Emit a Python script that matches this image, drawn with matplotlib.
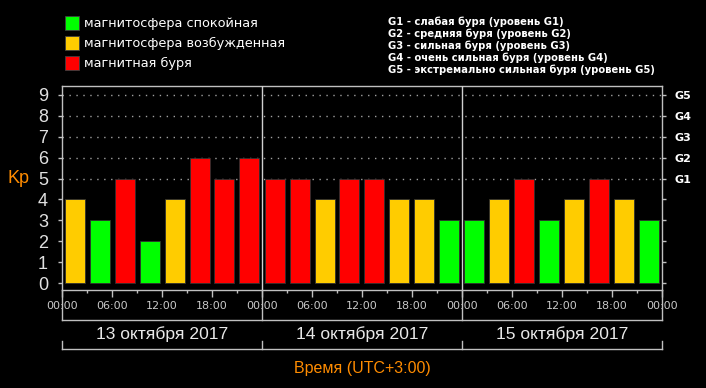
import matplotlib
matplotlib.use("Agg")
import matplotlib.pyplot as plt
from matplotlib.patches import Rectangle
from matplotlib.lines import Line2D
import matplotlib.transforms as mtransforms

# ---- data ----
kp_values = [4, 3, 5, 2, 4, 6, 5, 6,
             5, 5, 4, 5, 5, 4, 4, 3,
             3, 4, 5, 3, 4, 5, 4, 3]
hour_starts = list(range(0, 72, 3))
time_labels = ["00:00", "06:00", "12:00", "18:00"] * 3 + ["00:00"]
day_labels = ["13 октября 2017", "14 октября 2017", "15 октября 2017"]
g_levels = [5, 6, 7, 8, 9]
g_labels = ["G1", "G2", "G3", "G4", "G5"]
legend_left = ["магнитосфера спокойная", "магнитосфера возбужденная", "магнитная буря"]
legend_right = ["G1 - слабая буря (уровень G1)",
                "G2 - средняя буря (уровень G2)",
                "G3 - сильная буря (уровень G3)",
                "G4 - очень сильная буря (уровень G4)",
                "G5 - экстремально сильная буря (уровень G5)"]

GREEN, YELLOW, RED = "#00ff00", "#ffcc00", "#ff0000"
ORANGE = "#ff8c00"
GREY = "#c0c0c0"

def color_for(v):
    if v < 4:
        return GREEN
    if v == 4:
        return YELLOW
    return RED

W, H = 706, 388
fig = plt.figure(figsize=(W / 100, H / 100), dpi=100, facecolor="black")
ax = fig.add_axes([62 / W, 1 - 290 / H, 600 / W, 204 / H], facecolor="black")

centers = [h + 1.5 for h in hour_starts]
ax.bar(centers, kp_values, width=2.4, color=[color_for(v) for v in kp_values],
       edgecolor="#303030", linewidth=0.6, zorder=3)

ax.set_xlim(0, 72)
ax.set_ylim(-0.335, 9.43)

for lvl in g_levels:
    ax.axhline(lvl, color="#a0a0a0", linestyle=(0, (1, 4)), linewidth=1.0, zorder=1)
for d in (24, 48):
    ax.axvline(d, color="#d0d0d0", linewidth=1.0, zorder=4)

for s in ax.spines.values():
    s.set_color(GREY)
    s.set_linewidth(1.0)

ax.set_yticks(range(10))
ax.set_yticklabels([str(i) for i in range(10)], fontsize=13,
                   family="Liberation Sans", color="#e0e0e0")
ax.tick_params(axis="y", colors=GREY, length=3, width=1, labelcolor="#e0e0e0", pad=7)

ax2 = ax.twinx()
ax2.set_ylim(ax.get_ylim())
ax2.set_yticks(range(10))
ax2.set_yticklabels(["" if i < 5 else g_labels[i - 5] for i in range(10)],
                    fontsize=8, fontweight="bold", color="white")
ax2.tick_params(axis="y", colors=GREY, length=3, width=1, labelcolor="white", pad=6)
for s in ax2.spines.values():
    s.set_visible(False)

ax.set_xticks(range(0, 73, 6))
ax.set_xticklabels(time_labels, fontsize=8, color="#c8c8c8")
ax.set_xticks(range(0, 73, 3), minor=True)
ax.tick_params(axis="x", which="major", colors=GREY, length=5, width=1,
               labelcolor="#c8c8c8", pad=3)
ax.tick_params(axis="x", which="minor", colors=GREY, length=2, width=1)

ax.text(-0.072, 5, "Kp", transform=mtransforms.blended_transform_factory(ax.transAxes, ax.transData),
        color=ORANGE, fontsize=13, ha="center", va="center", family="Liberation Sans")

# brackets below the axis
bt = mtransforms.blended_transform_factory(ax.transData, fig.transFigure)
def fy(py):
    return 1 - py / H

y1, y2 = fy(320), fy(349)
fig.add_artist(Line2D([0, 72], [y1, y1], transform=bt, color=GREY, linewidth=1))
fig.add_artist(Line2D([0, 72], [y2, y2], transform=bt, color=GREY, linewidth=1))
for d in (0, 24, 48, 72):
    fig.add_artist(Line2D([d, d], [fy(290), y1], transform=bt, color=GREY, linewidth=1))
    fig.add_artist(Line2D([d, d], [fy(341), y2], transform=bt, color=GREY, linewidth=1))
for i, lab in enumerate(day_labels):
    fig.text(24 * i + 12, fy(334), lab, transform=bt, ha="center", va="center",
             color="#e8e8e8", fontsize=12.6, family="Liberation Sans")
fig.text(36, fy(368), "Время (UTC+3:00)", transform=bt, ha="center", va="center",
         color=ORANGE, fontsize=11.5, family="Liberation Sans")

# left legend
for i, (lab, col) in enumerate(zip(legend_left, [GREEN, YELLOW, RED])):
    cy = 23 + 20 * i
    fig.add_artist(Rectangle((65 / W, fy(cy + 7)), 14 / W, 14 / H,
                             transform=fig.transFigure, facecolor=col,
                             edgecolor="#404040", linewidth=0.6))
    fig.text(84 / W, fy(cy), lab, color="white", fontsize=9.3, va="center", ha="left")

# right legend
for i, lab in enumerate(legend_right):
    fig.text(388 / W, fy(22 + 12 * i), lab, color="white", fontsize=7.2,
             fontweight="bold", va="center", ha="left")

fig.savefig("out.png", dpi=100, facecolor="black")
